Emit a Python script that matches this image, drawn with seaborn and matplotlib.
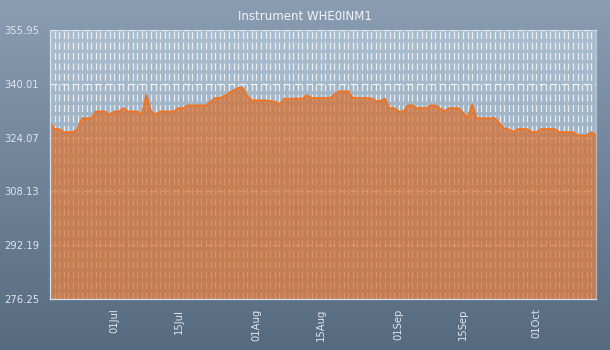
import numpy as np
import pandas as pd
import matplotlib
matplotlib.use("Agg")
import matplotlib.pyplot as plt
import matplotlib.dates as mdates
from matplotlib.colors import LinearSegmentedColormap
import seaborn as sns

# ---- data ----
start_date = "2017-06-17"
values = [
    328.6, 326.6, 326.6, 325.7, 325.7, 325.7, 326.6, 329.8, 329.8, 329.8,
    331.8, 331.8, 331.8, 330.8, 331.8, 331.8, 332.8, 331.8, 331.8, 331.8,
    330.8, 336.7, 332.0, 330.8, 331.8, 331.8, 331.8, 331.8, 332.8, 332.8,
    333.6, 333.6, 333.6, 333.6, 333.6, 334.8, 335.8, 335.8, 336.4, 337.3,
    338.1, 338.8, 338.8, 336.4, 335.1, 335.1, 335.1, 335.1, 334.9, 334.8,
    333.8, 335.6, 335.6, 335.6, 335.6, 335.6, 336.6, 335.8, 335.8, 335.8,
    335.8, 335.8, 336.8, 337.8, 337.8, 337.8, 335.8, 335.8, 335.8, 335.8,
    335.7, 334.9, 334.9, 335.6, 332.8, 332.8, 331.8, 331.8, 333.6, 333.6,
    332.8, 332.8, 332.8, 333.6, 333.6, 332.7, 331.9, 332.8, 332.8, 332.8,
    331.5, 329.8, 333.8, 329.8, 329.8, 329.8, 329.8, 329.8, 328.2, 326.8,
    326.5, 325.8, 326.6, 326.6, 326.6, 325.7, 325.7, 326.6, 326.6, 326.6,
    326.6, 325.7, 325.7, 325.7, 325.7, 324.7, 324.7, 324.7, 325.7, 324.7,
]
y_ticks = [276.25, 292.19, 308.13, 324.07, 340.01, 355.95]
y_min, y_max = 276.25, 355.95
x_tick_dates = ["2017-07-01", "2017-07-15", "2017-08-01", "2017-08-15",
                "2017-09-01", "2017-09-15", "2017-10-01"]
title = "Instrument WHE0INM1"

dates = pd.date_range(start_date, periods=len(values), freq="D")
df = pd.DataFrame({"date": dates, "value": values})

sns.set_style("white")
plt.rcParams["font.family"] = ["DejaVu Sans"]
plt.rcParams["lines.scale_dashes"] = False

fig = plt.figure(figsize=(6.1, 3.5), dpi=100)

# figure background gradient
bg_ax = fig.add_axes([0, 0, 1, 1], zorder=-10)
grad = np.linspace(0, 1, 256).reshape(-1, 1)
fig_cmap = LinearSegmentedColormap.from_list("figbg", ["#8a9db2", "#566a80"])
bg_ax.imshow(grad, aspect="auto", cmap=fig_cmap, extent=[0, 1, 0, 1], origin="upper")
bg_ax.set_axis_off()

ax = fig.add_axes([50 / 610, 1 - 299 / 350, 546 / 610, 269 / 350])
ax.patch.set_alpha(0)
plot_cmap = LinearSegmentedColormap.from_list("plotbg", ["#abbecf", "#8ca2b8"])
ax.imshow(grad, aspect="auto", cmap=plot_cmap, extent=[0, 1, 0, 1],
          origin="upper", transform=ax.transAxes, zorder=0)

ax.set_axisbelow(True)
ax.fill_between(df["date"], df["value"], y_min, color="#d76f30", alpha=0.72,
                linewidth=0, zorder=1)
sns.lineplot(data=df, x="date", y="value", ax=ax, color="#f2731f",
             linewidth=1.3, zorder=2)

ax.set_xlim(dates[0], dates[-1])
ax.set_ylim(y_min, y_max)
ax.set_yticks(y_ticks)
ax.set_yticklabels([f"{t:.2f}" for t in y_ticks])
ax.xaxis.set_minor_locator(mdates.DayLocator())
ax.set_xticks(pd.to_datetime(x_tick_dates))
ax.xaxis.set_major_formatter(mdates.DateFormatter("%d%b"))

ax.set_xlabel("")
ax.set_ylabel("")

ax.grid(True, which="both", axis="x", color="white", alpha=0.75,
        linewidth=0.9, linestyle=(0, (5, 2.5)))
ax.grid(True, which="major", axis="y", color="white", alpha=0.8,
        linewidth=0.9, linestyle=(0, (5, 3)))

for side in ["left", "bottom", "top", "right"]:
    ax.spines[side].set_color("#d8e0e8")
    ax.spines[side].set_linewidth(0.9)
ax.spines["top"].set_alpha(0.6)
ax.spines["right"].set_alpha(0.6)

ax.tick_params(axis="y", which="major", direction="out", length=5, width=0.9,
               color="#e0e6ee", labelcolor="#dfe5ec", labelsize=7.2, pad=3)
ax.tick_params(axis="x", which="both", direction="out", length=4, width=0.8,
               color="#e0e6ee", labelcolor="#dfe5ec", labelsize=7.2, pad=3)
plt.setp(ax.get_xticklabels(), rotation=90)

fig.text(0.5, 1 - 17 / 350, title, ha="center", va="center",
         color="#f2f4f8", fontsize=8.5)

fig.savefig("out.png", dpi=100)
